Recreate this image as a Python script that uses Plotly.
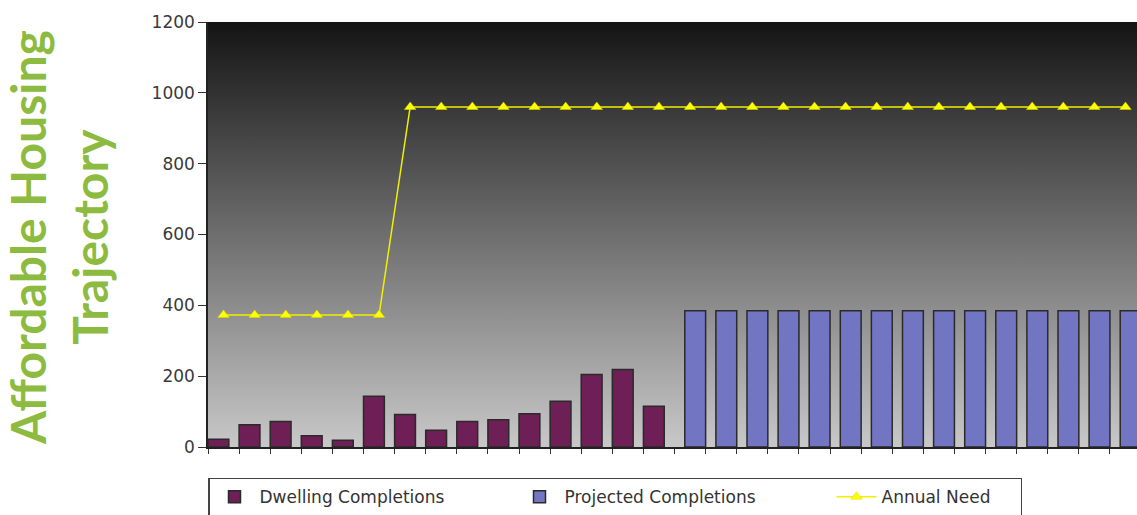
import base64
import plotly.graph_objects as go

# ---- data ----
periods = list(range(1, 31))
dwelling_periods = list(range(1, 16))
dwelling_completions = [22, 63, 72, 32, 19, 143, 92, 47, 72, 77, 94, 129, 205, 219, 115]
projected_periods = list(range(16, 31))
projected_completions = [385] * 15
annual_need = [373] * 6 + [960] * 24
y_ticks = [0, 200, 400, 600, 800, 1000, 1200]

# ---- styling ----
W, H = 1137, 515
L, R, T, B = 208, 0, 22, 68

svg = ("<svg xmlns='http://www.w3.org/2000/svg' width='100' height='100' viewBox='0 0 100 100' "
       "preserveAspectRatio='none'><defs><linearGradient id='g' x1='0' y1='0' x2='0' y2='1'>"
       "<stop offset='0' stop-color='#141414'/><stop offset='1' stop-color='#c8c8c8'/>"
       "</linearGradient></defs><rect width='100' height='100' fill='url(#g)'/></svg>")
bg_src = "data:image/svg+xml;base64," + base64.b64encode(svg.encode()).decode()

fig = go.Figure()
fig.add_trace(go.Bar(
    x=dwelling_periods, y=dwelling_completions, name="Dwelling Completions",
    offset=-0.5, width=0.67, legendwidth=250,
    marker=dict(color="#6e1f55", line=dict(color="#2a2a2a", width=1.5)),
))
fig.add_trace(go.Bar(
    x=projected_periods, y=projected_completions, name="Projected Completions",
    offset=-0.17, width=0.67, legendwidth=262,
    marker=dict(color="#7276c2", line=dict(color="#2a2a2a", width=1.5)),
))
fig.add_trace(go.Scatter(
    x=periods, y=annual_need, name="Annual Need", mode="lines+markers",
    legendwidth=134,
    line=dict(color="#f0f000", width=1.5),
    marker=dict(symbol="triangle-up", size=10, color="#ffff00",
                line=dict(color="#d8d800", width=0.5)),
))

fig.update_layout(
    width=W, height=H,
    margin=dict(l=L, r=R, t=T, b=B, autoexpand=False),
    paper_bgcolor="white",
    plot_bgcolor="rgba(0,0,0,0)",
    barmode="overlay",
    font=dict(family="DejaVu Sans", color="#333333"),
    images=[dict(source=bg_src, xref="paper", yref="paper", x=0, y=1,
                 sizex=1, sizey=1, sizing="stretch", layer="below",
                 xanchor="left", yanchor="top")],
    xaxis=dict(range=[0.5, 30.37], showgrid=False, zeroline=False,
               showline=True, linecolor="#222222", linewidth=1.5,
               tickmode="linear", tick0=0.5, dtick=1, ticks="outside",
               ticklen=5, tickcolor="#333333", showticklabels=False),
    yaxis=dict(range=[0, 1200], tickvals=y_ticks, showgrid=False, zeroline=False,
               showline=True, linecolor="#222222", linewidth=1.5,
               ticks="outside", ticklen=8, tickcolor="#333333",
               tickfont=dict(family="DejaVu Sans", size=17, color="#3a3a3a")),
    legend=dict(orientation="h", x=0, xanchor="left", y=-0.072, yanchor="top",
                bgcolor="white", bordercolor="#444444", borderwidth=1.5,
                font=dict(family="DejaVu Sans", size=17, color="#333333"),
                itemwidth=40, tracegroupgap=0),
    annotations=[dict(
        text="<b>Affordable Housing<br>Trajectory</b>", xref="paper", yref="paper",
        x=(58 - L) / (W - L - R), y=(H - B - 238) / (H - T - B),
        xanchor="center", yanchor="middle", textangle=-90, showarrow=False,
        font=dict(family="Lato", size=48, color="#8cbb3f"), align="center",
    )],
    showlegend=True,
)

fig.write_html("out.html")
